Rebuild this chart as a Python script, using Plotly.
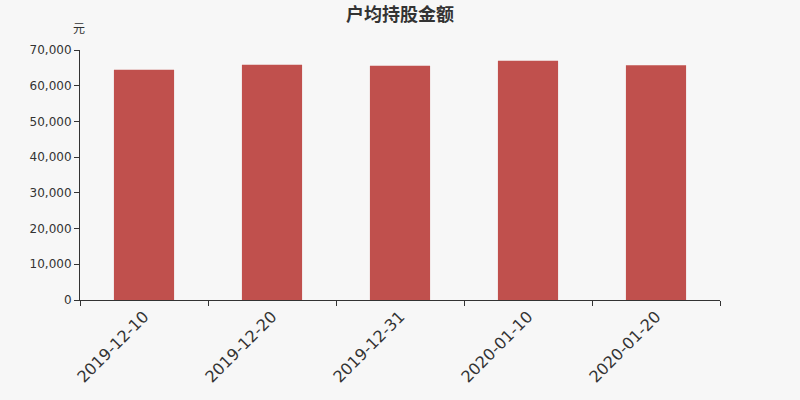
import plotly.graph_objects as go

# data
dates = ["2019-12-10", "2019-12-20", "2019-12-31", "2020-01-10", "2020-01-20"]
amounts = [64500, 65900, 65600, 67000, 65700]
y_ticks = [0, 10000, 20000, 30000, 40000, 50000, 60000, 70000]
y_tick_text = ["0", "10,000", "20,000", "30,000", "40,000", "50,000", "60,000", "70,000"]

bg = "#f7f7f7"
font = "DejaVu Sans"

fig = go.Figure(go.Bar(x=dates, y=amounts, marker_color="#c0504d",
                       marker_line_width=0, width=0.47))

fig.update_layout(
    width=800, height=400,
    paper_bgcolor=bg, plot_bgcolor=bg,
    margin=dict(l=80, r=80, t=50, b=100),
    showlegend=False,
    font=dict(family=font, color="#333333"),
    title=dict(text="<b>户均持股金额</b>", x=0.5, xanchor="center", y=0.964, yanchor="middle",
               font=dict(size=18, color="#333333", family="Noto Sans CJK SC")),
    annotations=[dict(text="元", xref="paper", yref="paper", x=-0.002, y=1.09,
                      xanchor="center", yanchor="middle", showarrow=False,
                      font=dict(size=12, color="#333333", family="Noto Sans CJK SC"))],
)
fig.update_xaxes(type="category", tickangle=-45, tickfont=dict(size=16),
                 showline=True, linecolor="#333333", linewidth=1,
                 ticks="outside", ticklen=5, tickcolor="#333333", tickson="boundaries",
                 showgrid=False, zeroline=False)
fig.update_yaxes(range=[0, 70000], tickvals=y_ticks, ticktext=y_tick_text,
                 tickfont=dict(size=12),
                 showline=True, linecolor="#333333", linewidth=1,
                 ticks="outside", ticklen=5, tickcolor="#333333",
                 showgrid=False, zeroline=False)

# drop the default 8px page margin so the figure fills the window
fig.write_html("out.html", config={"displayModeBar": False},
               post_script="document.body.style.margin='0';"
                           "document.body.style.background='#f7f7f7';")
